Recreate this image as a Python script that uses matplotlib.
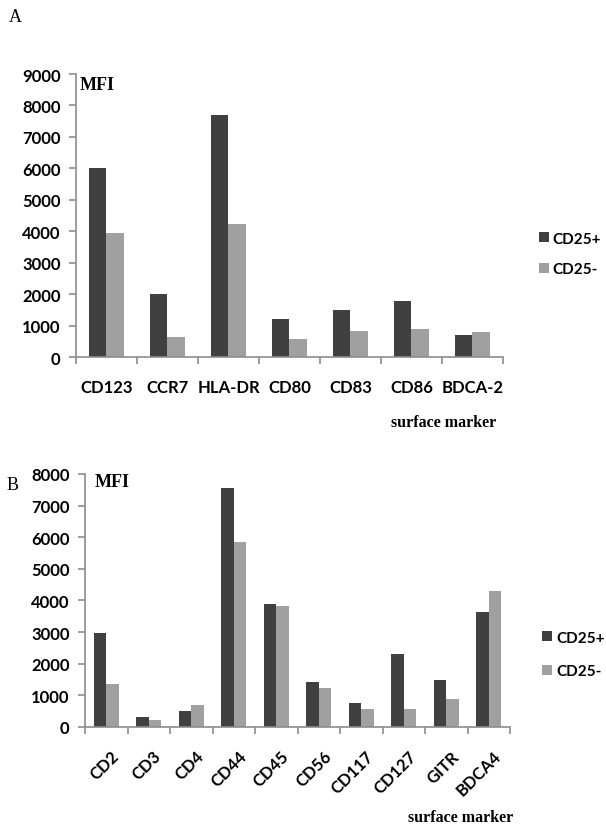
import numpy as np
import matplotlib
matplotlib.use("Agg")
import matplotlib.pyplot as plt
import matplotlib.transforms as mtrans
from matplotlib.ticker import FixedLocator

# panel A data
markersA = ["CD123", "CCR7", "HLA-DR", "CD80", "CD83", "CD86", "BDCA-2"]
posA = [6000, 2000, 7700, 1200, 1500, 1780, 690]
negA = [3960, 630, 4240, 580, 840, 890, 810]

# panel B data
markersB = ["CD2", "CD3", "CD4", "CD44", "CD45", "CD56", "CD117", "CD127", "GITR", "BDCA4"]
posB = [2980, 300, 500, 7570, 3900, 1430, 770, 2320, 1500, 3640]
negB = [1370, 230, 680, 5850, 3820, 1220, 580, 580, 900, 4300]

seriesNames = ["CD25+", "CD25-"]

DARK = "#404040"
LIGHT = "#a0a0a0"
AXC = "#8c8c8c"
SANS = "Lato"
SERIF = "Liberation Serif"


def drawPanel(fig, ax, cats, pos, neg, ymax, rotate):

	x = np.arange(len(cats))
	w = 0.29
	ax.bar(x - w / 2, pos, w, color=DARK, label=seriesNames[0], zorder=2)
	ax.bar(x + w / 2, neg, w, color=LIGHT, label=seriesNames[1], zorder=2)

	ax.set_xlim(-0.5, len(cats) - 0.5)
	ax.set_ylim(0, ymax)
	ax.set_yticks(np.arange(0, ymax + 1, 1000))

	for s in ["top", "right"]:
		ax.spines[s].set_visible(False)
	for s in ["left", "bottom"]:
		ax.spines[s].set_color(AXC)
		ax.spines[s].set_linewidth(1.2)

	ax.tick_params(axis="y", colors=AXC, length=5, width=1.2, pad=6)
	for t in ax.get_yticklabels():
		t.set_color("black")
		t.set_fontfamily(SANS)
		t.set_fontweight("bold")
		t.set_fontsize(12)

	# category labels at centres, tick marks on the boundaries
	ax.set_xticks(x)
	ax.xaxis.set_minor_locator(FixedLocator(np.arange(-0.5, len(cats), 1.0)))
	ax.tick_params(axis="x", which="minor", colors=AXC, length=5, width=1.2)
	if rotate:
		ax.tick_params(axis="x", which="major", length=0, pad=19)
		ax.set_xticklabels(cats, rotation=45, ha="right", va="center", rotation_mode="anchor",
			fontfamily=SANS, fontweight="bold", fontsize=12)
		shift = mtrans.ScaledTranslation(10 / 100, 0, fig.dpi_scale_trans)
		for t in ax.get_xticklabels():
			t.set_transform(t.get_transform() + shift)
	else:
		ax.tick_params(axis="x", which="major", length=0, pad=16)
		ax.set_xticklabels(cats, fontfamily=SANS, fontweight="bold", fontsize=12)


fig = plt.figure(figsize=(6.06, 8.28), dpi=100)

axA = fig.add_axes([0.1254, 0.5676, 0.7046, 0.3418])
drawPanel(fig, axA, markersA, posA, negA, 9000, False)

axB = fig.add_axes([0.1403, 0.1208, 0.7013, 0.3056])
drawPanel(fig, axB, markersB, posB, negB, 8000, True)

legFont = {"family": SANS, "weight": "bold", "size": 11}
axA.legend(loc="center left", bbox_to_anchor=(0.877, 0.692), bbox_transform=fig.transFigure,
	frameon=False, prop=legFont, handlelength=0.65, handleheight=0.65, handletextpad=0.25,
	borderpad=0, labelspacing=1.1)
axB.legend(loc="center left", bbox_to_anchor=(0.882, 0.2083), bbox_transform=fig.transFigure,
	frameon=False, prop=legFont, handlelength=0.65, handleheight=0.65, handletextpad=0.25,
	borderpad=0, labelspacing=1.3)

# MFI labels and axis titles
fig.text(80 / 606, 1 - 85 / 828, "MFI", family=SERIF, weight="bold", fontsize=13, va="center")
fig.text(95 / 606, 1 - 483 / 828, "MFI", family=SERIF, weight="bold", fontsize=13, va="center")
fig.text(444 / 606, 1 - 423 / 828, "surface marker", family=SERIF, weight="bold", fontsize=11.5, ha="center", va="center")
fig.text(461 / 606, 1 - 818 / 828, "surface marker", family=SERIF, weight="bold", fontsize=11.5, ha="center", va="center")

# panel letters
fig.text(15 / 606, 1 - 17 / 828, "A", family=SERIF, fontsize=13, ha="center", va="center")
fig.text(13 / 606, 1 - 486 / 828, "B", family=SERIF, fontsize=13, ha="center", va="center")

fig.savefig("out.png", dpi=100)
plt.close(fig)
